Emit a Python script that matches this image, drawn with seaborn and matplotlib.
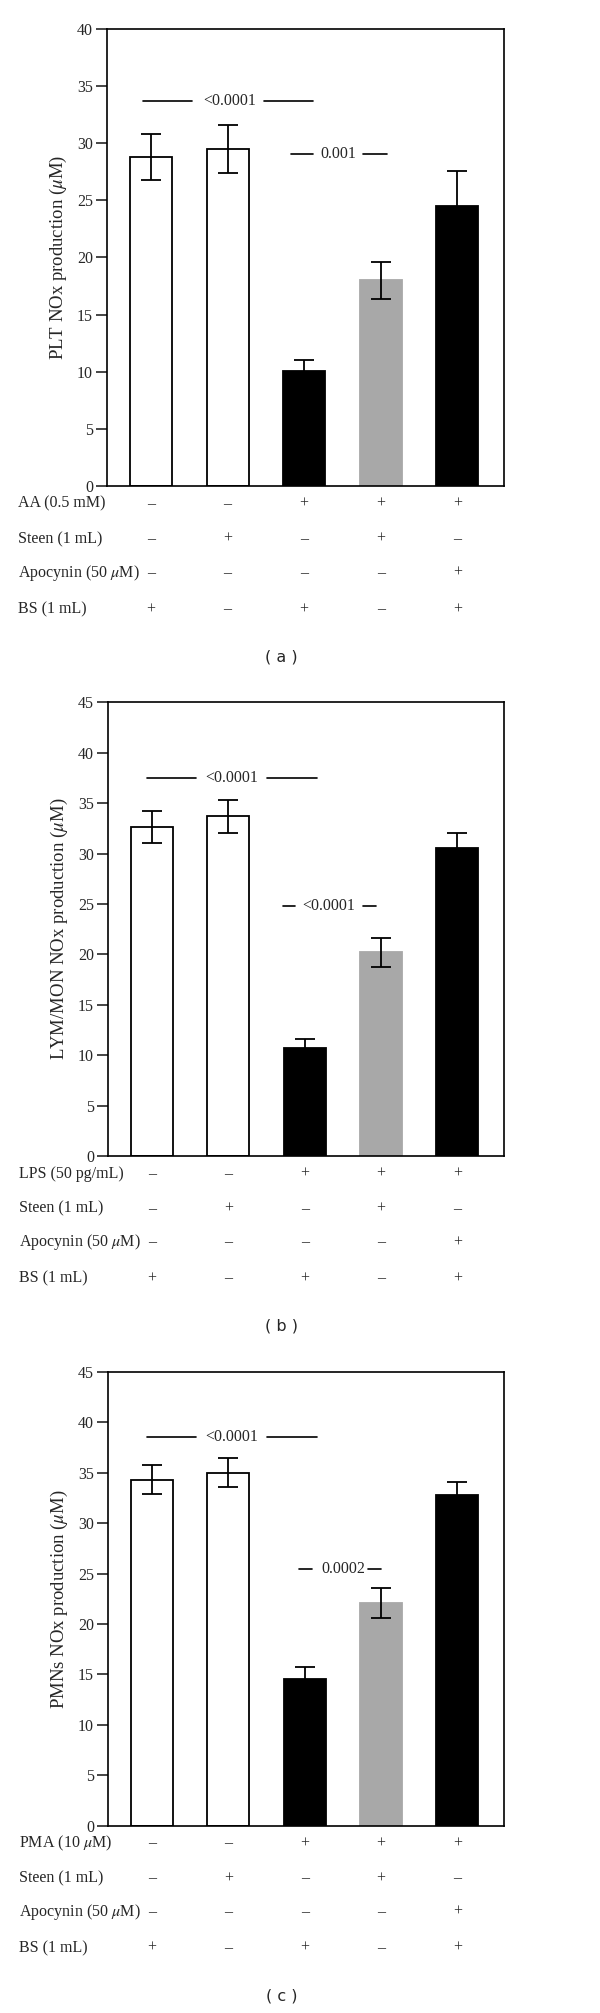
import matplotlib
matplotlib.use("Agg")
import matplotlib.pyplot as plt
import matplotlib.transforms as mtransforms
import seaborn as sns

# ---- data ----
groups = ["G1", "G2", "G3", "G4", "G5"]
bar_colors = ["white", "white", "black", "#a8a8a8", "black"]

plt_means = [28.8, 29.5, 10.1, 18.0, 24.5]
plt_errs = [2.0, 2.1, 0.9, 1.6, 3.1]

lym_means = [32.6, 33.7, 10.7, 20.2, 30.6]
lym_errs = [1.6, 1.65, 0.9, 1.45, 1.45]

pmn_means = [34.3, 35.0, 14.5, 22.1, 32.8]
pmn_errs = [1.45, 1.45, 1.25, 1.5, 1.3]

ylabels = ["PLT NOx production ($\\mu$M)",
           "LYM/MON NOx production ($\\mu$M)",
           "PMNs NOx production ($\\mu$M)"]
ymaxes = [40, 45, 45]
captions = ["( a )", "( b )", "( c )"]

stimulus_labels = ["AA (0.5 mM)", "LPS (50 pg/mL)", "PMA (10 $\\mu$M)"]
row_labels = ["Steen (1 mL)", "Apocynin (50 $\\mu$M)", "BS (1 mL)"]
stimulus_signs = ["–", "–", "+", "+", "+"]
steen_signs = ["–", "+", "–", "+", "–"]
apocynin_signs = ["–", "–", "–", "–", "+"]
bs_signs = ["+", "–", "+", "–", "+"]

# p-value labels: (text, y level, left line, text x, right line) in data units
sig_a = [("<0.0001", 33.7, (-0.10, 0.54), 1.03, (1.48, 2.12)),
         ("0.001", 29.1, (1.83, 2.12), 2.44, (2.77, 3.08))]
sig_b = [("<0.0001", 37.45, (-0.07, 0.58), 1.05, (1.51, 2.16)),
         ("<0.0001", 24.8, (1.72, 1.88), 2.31, (2.77, 2.94))]
sig_c = [("<0.0001", 38.55, (-0.07, 0.58), 1.05, (1.51, 2.16)),
         ("0.0002", 25.4, (1.92, 2.09), 2.51, (2.83, 3.0))]

panels = [
    (plt_means, plt_errs, sig_a),
    (lym_means, lym_errs, sig_b),
    (pmn_means, pmn_errs, sig_c),
]

sns.set_style("white")
plt.rcParams["font.family"] = ["Liberation Serif", "DejaVu Serif"]
plt.rcParams["mathtext.fontset"] = "stix"

FS = 11.5
fig = plt.figure(figsize=(6, 20.13), dpi=100)
rects = [(0.1783, 0.7586, 0.6617, 0.2270),
         (0.1800, 0.4257, 0.6600, 0.2254),
         (0.1800, 0.0931, 0.6600, 0.2254)]

for i, (means, errs, sigs) in enumerate(panels):
    ax = fig.add_axes(rects[i])
    sns.barplot(x=groups, y=means, hue=groups, palette=bar_colors,
                legend=False, width=0.55, edgecolor="black",
                linewidth=1.3, ax=ax)
    ax.patches[3].set_edgecolor("#a8a8a8")
    ax.errorbar(range(len(groups)), means, yerr=errs, fmt="none",
                ecolor="black", elinewidth=1.3, capsize=7.5, capthick=1.3)

    ax.set_xlim(-0.575, 4.61)
    ax.set_ylim(0, ymaxes[i])
    ax.set_yticks(range(0, ymaxes[i] + 1, 5))
    ax.set_xticks([])
    ax.set_xlabel("")
    ax.set_ylabel(ylabels[i], fontsize=13.5, labelpad=6)
    ax.tick_params(axis="y", direction="out", length=8, width=1.2,
                   labelsize=FS, left=True, pad=2)
    for sp in ax.spines.values():
        sp.set_linewidth(1.2)
        sp.set_color("black")

    for text, yv, left, tx, right in sigs:
        ax.plot(left, [yv, yv], color="black", lw=1.2)
        ax.plot(right, [yv, yv], color="black", lw=1.2)
        ax.text(tx, yv, text, ha="center", va="center", fontsize=FS)

    # treatment table below the axes
    trans = mtransforms.blended_transform_factory(ax.transData, ax.transAxes)
    rows = [(stimulus_labels[i], stimulus_signs),
            (row_labels[0], steen_signs),
            (row_labels[1], apocynin_signs),
            (row_labels[2], bs_signs)]
    row_y = [-0.039, -0.116, -0.19, -0.27]
    for (label, signs), ry in zip(rows, row_y):
        ax.text(-0.224, ry, label, transform=ax.transAxes, ha="left",
                va="center", fontsize=FS)
        for xi, s in enumerate(signs):
            ax.text(xi, ry, s, transform=trans, ha="center", va="center",
                    fontsize=FS)

    ax.text(0.438, -0.375, captions[i], transform=ax.transAxes,
            ha="center", va="center", fontsize=FS,
            family=["DejaVu Sans"])

fig.savefig("out.png", dpi=100, facecolor="white")
